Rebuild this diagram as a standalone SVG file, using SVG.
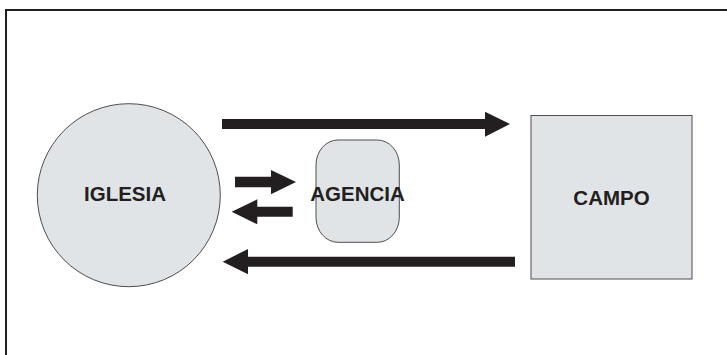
<svg xmlns="http://www.w3.org/2000/svg" width="727" height="355" viewBox="0 0 727 355">
  <style>
    .node { fill: #e1e4e7; stroke: #4d4d4f; stroke-width: 1; }
    .label { font-family: "Liberation Sans", Arial, sans-serif; font-weight: bold; font-size: 20.5px; fill: #231f20; text-anchor: middle; }
    .arrow { fill: #231f20; }
  </style>
  <rect width="727" height="355" fill="#ffffff"/>
  <!-- outer frame, open to the right and bottom -->
  <path d="M6,360 V10 H730" fill="none" stroke="#231f20" stroke-width="2"/>

  <g id="iglesia">
    <circle class="node" cx="128.8" cy="195.2" r="91.5"/>
    <text class="label" x="125" y="201">IGLESIA</text>
  </g>

  <g id="campo">
    <rect class="node" x="531" y="115.5" width="161" height="163.5"/>
    <text class="label" x="611.5" y="205">CAMPO</text>
  </g>

  <g id="agencia">
    <rect class="node" x="316" y="140" width="83.3" height="102.3" rx="22" ry="25"/>
  </g>

  <g id="connectors">
    <!-- IGLESIA to CAMPO -->
    <polygon class="arrow" points="222,119 485,119 485,111.7 510,124 485,136.7 485,129 222,129"/>
    <!-- CAMPO to IGLESIA -->
    <polygon class="arrow" points="515,256.7 248,256.7 248,249 222.7,261.7 248,274.3 248,266.7 515,266.7"/>
    <!-- IGLESIA to AGENCIA -->
    <polygon class="arrow" points="235,176.7 271,176.7 271,170 296,182 271,194.3 271,187.3 235,187.3"/>
    <!-- AGENCIA to IGLESIA -->
    <polygon class="arrow" points="292.7,206.7 257.3,206.7 257.3,199.3 231.7,211.7 257.3,224.3 257.3,216.7 292.7,216.7"/>
  </g>

  <!-- label drawn over the connector layer -->
  <text class="label" x="357.5" y="200.7">AGENCIA</text>
</svg>
